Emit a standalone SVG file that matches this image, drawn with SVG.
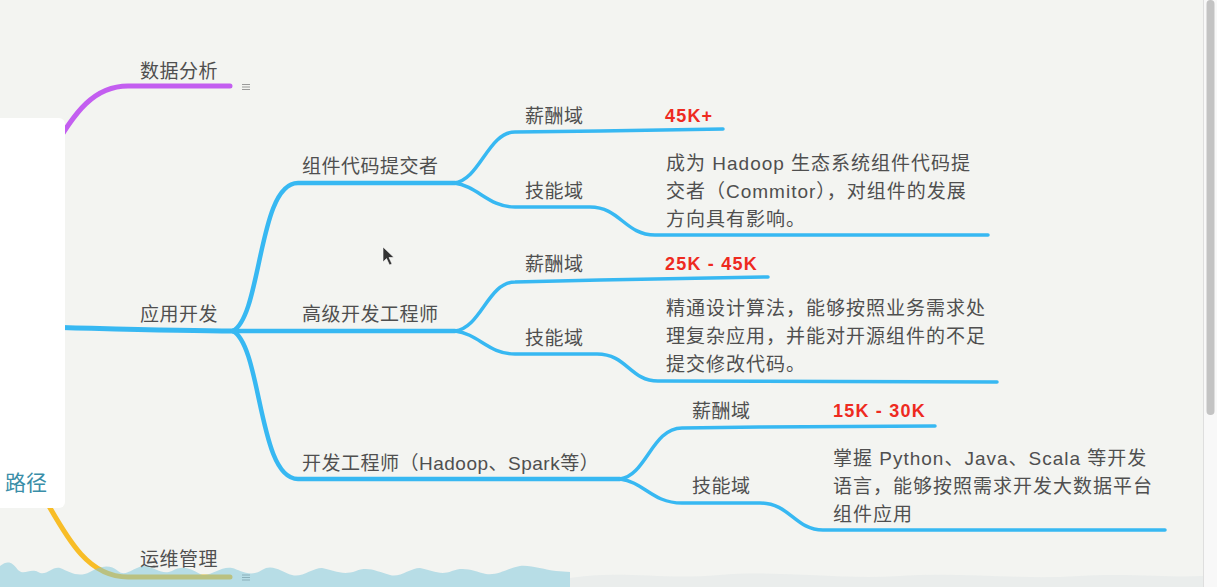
<svg xmlns="http://www.w3.org/2000/svg" width="1217" height="587" viewBox="0 0 1217 587">
<style>
.lbl{font-family:"Liberation Sans","Noto Sans CJK SC",sans-serif;font-size:19px;fill:#4f4f4f;letter-spacing:0.5px}
.desc{font-family:"Liberation Sans","Noto Sans CJK SC",sans-serif;font-size:19px;fill:#4f4f4f;letter-spacing:1px}
.sal{font-family:"Liberation Sans","Noto Sans CJK SC",sans-serif;font-size:18px;font-weight:bold;fill:#ee2a1f;letter-spacing:1.2px}
.b1{fill:none;stroke-width:5;stroke-linecap:round}
.b2{fill:none;stroke:#37b8f2;stroke-width:4.5;stroke-linecap:round}
.b3{fill:none;stroke:#37b8f2;stroke-width:3.5;stroke-linecap:round}
.ico{stroke:#9a9a9a;stroke-width:1.2}
</style>
<rect x="0" y="0" width="1217" height="587" fill="#f3f4f1"/>
<g id="connectors">
<path class="b1" stroke="#c35ef0" d="M 50 155 C 75 110, 95 86, 128 86 L 230 86"/>
<path class="b1" stroke="#37b8f2" d="M 40 327 C 120 329, 180 331, 233 331"/>
<path class="b1" stroke="#f8bd27" d="M 40 490 C 70 545, 90 577, 128 577 L 230 577"/>
<path class="b2" d="M 233 331 C 262 315, 258 183, 298 183 L 455 183"/>
<path class="b2" d="M 233 331 L 455 331"/>
<path class="b2" d="M 233 331 C 262 347, 258 479, 298 479 L 620 479"/>
<path class="b3" d="M 454 183 C 480 180, 488 132, 515 132 L 600 131 L 723 129"/>
<path class="b3" d="M 454 183 C 478 186, 488 207, 515 207 L 590 207 C 620 207, 625 235, 655 235 L 988 235"/>
<path class="b3" d="M 455 331 C 481 328, 488 282, 515 282 L 600 280 L 768 277"/>
<path class="b3" d="M 455 331 C 479 334, 488 354, 515 354 L 597 354 C 627 354, 630 381, 658 381 L 997 382"/>
<path class="b3" d="M 620 479 C 646 476, 652 428, 682 428 L 760 427 L 935 426"/>
<path class="b3" d="M 620 479 C 644 482, 652 503, 682 503 L 760 503 C 790 503, 795 530, 823 530 L 1165 530"/>
</g>
<g id="root">
<rect x="-10" y="118" width="75" height="390" rx="6" fill="#ffffff"/>
<text x="5" y="490" style="font-family:'Noto Sans CJK SC',sans-serif;font-size:21px;fill:#3a8ea8">路径</text>
</g>
<g id="n-shujufenxi">
<text class="lbl" x="140" y="78">数据分析</text>
<path class="ico" d="M242 84.5h8M242 87h8M242 89.5h8"/>
</g>
<g id="n-yingyongkaifa">
<text class="lbl" x="140" y="321">应用开发</text>
</g>
<g id="n-yunwei">
<text class="lbl" x="140" y="566">运维管理</text>
</g>
<g id="n-zujian">
<text class="lbl" x="302" y="173">组件代码提交者</text>
</g>
<g id="n-gaoji">
<text class="lbl" x="302" y="321">高级开发工程师</text>
</g>
<g id="n-kaifa">
<text class="lbl" x="302" y="470">开发工程师（Hadoop、Spark等）</text>
</g>
<g id="n-zujian-xc">
<text class="lbl" x="525" y="123">薪酬域</text>
<text class="sal" x="665" y="122">45K+</text>
</g>
<g id="n-zujian-jn">
<text class="lbl" x="525" y="198">技能域</text>
<text class="desc" x="666" y="170">成为 Hadoop 生态系统组件代码提</text>
<text class="desc" x="666" y="198">交者（Commitor），对组件的发展</text>
<text class="desc" x="666" y="226">方向具有影响。</text>
</g>
<g id="n-gaoji-xc">
<text class="lbl" x="525" y="271">薪酬域</text>
<text class="sal" x="665" y="270">25K - 45K</text>
</g>
<g id="n-gaoji-jn">
<text class="lbl" x="525" y="345">技能域</text>
<text class="desc" x="666" y="315">精通设计算法，能够按照业务需求处</text>
<text class="desc" x="666" y="343">理复杂应用，并能对开源组件的不足</text>
<text class="desc" x="666" y="371">提交修改代码。</text>
</g>
<g id="n-kaifa-xc">
<text class="lbl" x="692" y="418">薪酬域</text>
<text class="sal" x="833" y="417">15K - 30K</text>
</g>
<g id="n-kaifa-jn">
<text class="lbl" x="692" y="493">技能域</text>
<text class="desc" x="833" y="465">掌握 Python、Java、Scala 等开发</text>
<text class="desc" x="833" y="493">语言，能够按照需求开发大数据平台</text>
<text class="desc" x="833" y="521">组件应用</text>
</g>
<path class="ico" d="M242 575h8M242 577.5h8M242 580h8"/>
<path d="M0 566 C 8 560, 12 562, 18 570 C 24 576, 30 568, 38 572 C 46 577, 52 566, 60 568 C 70 572, 78 578, 90 572 C 100 566, 110 564, 118 571 C 126 578, 134 566, 146 566 C 156 568, 162 575, 172 571 C 182 565, 190 568, 200 574 C 210 578, 220 566, 232 568 C 240 570, 250 578, 262 570 C 272 563, 282 572, 292 575 C 302 578, 312 568, 322 568 C 334 570, 342 576, 356 571 C 368 566, 378 572, 390 575 C 400 578, 410 568, 420 568 C 432 570, 440 576, 452 571 C 464 566, 474 571, 486 574 C 498 576, 508 568, 520 566 C 532 565, 544 570, 556 571 L 570 572 L 570 587 L 0 587 Z" fill="#7cc5dc" fill-opacity="0.5"/>
<path d="M570 578 C 620 570, 660 580, 720 575 C 780 570, 840 580, 900 576 C 960 572, 1020 580, 1080 576 C 1130 573, 1170 578, 1203 576 L 1203 587 L 570 587 Z" fill="#e6eaea" fill-opacity="0.7"/>
<path d="M383 247 L383 262 L386.5 258.5 L389.5 265 L392 264 L389 257.5 L394 257.5 Z" fill="#333" stroke="#fff" stroke-width="0.6"/>
<rect x="1203" y="0" width="14" height="587" fill="#f8f8f8"/>
<line x1="1203.5" y1="0" x2="1203.5" y2="587" stroke="#dedede" stroke-width="1"/>
<rect x="1206.5" y="0" width="8" height="415" rx="4" fill="#c3c3c3"/>
</svg>
